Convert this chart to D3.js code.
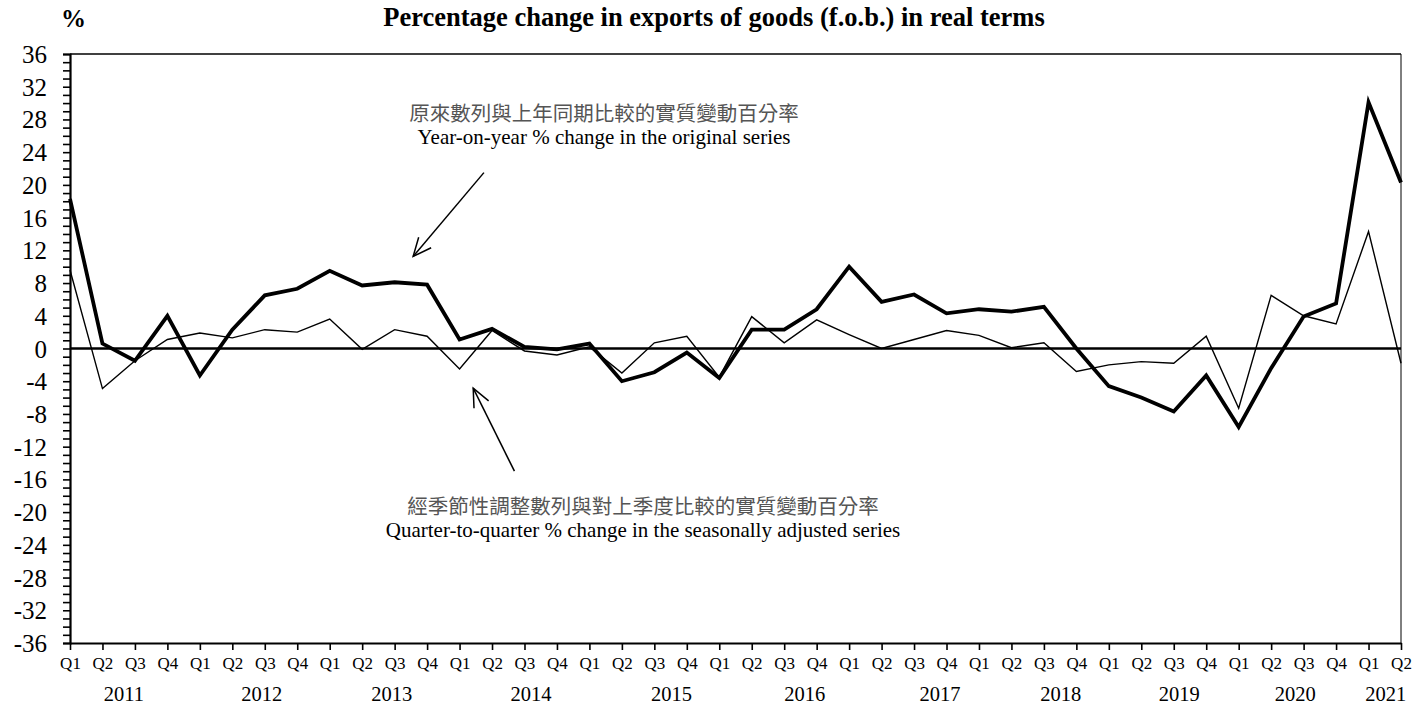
<!DOCTYPE html>
<html>
<head>
<meta charset="utf-8">
<script src="https://cdn.jsdelivr.net/npm/d3@7"></script>
<style>
  body { margin: 0; background: #fff; }
  svg text { font-family: "Liberation Serif", "Times New Roman", serif; fill: #000; }
  .zh { font-family: "Noto Sans CJK TC", sans-serif; }
</style>
</head>
<body>
<div id="vizDiv"></div>
<script>
var width = 1427
var height = 706

// quarters Q1 2011 .. Q2 2021
var years = ["2011","2012","2013","2014","2015","2016","2017","2018","2019","2020","2021"]
var quarters = []
years.forEach(function (y) {
    ["Q1","Q2","Q3","Q4"].forEach(function (q) {
        if (!(y == "2021" && (q == "Q3" || q == "Q4"))) quarters.push(q)
    })
})

// year-on-year % change, original series (thick line)
var yoyValues = [18.3, 0.6, -1.5, 4.0, -3.3, 2.3, 6.5, 7.3, 9.5, 7.7, 8.1, 7.8,
                 1.1, 2.4, 0.2, -0.1, 0.6, -4.0, -2.9, -0.5, -3.6, 2.3, 2.3, 4.8,
                 10.0, 5.7, 6.6, 4.3, 4.8, 4.5, 5.1, 0.0, -4.6, -6.0, -7.7, -3.3,
                 -9.6, -2.4, 3.9, 5.5, 30.1, 20.3]

// quarter-to-quarter % change, seasonally adjusted series (thin line)
var qoqValues = [9.6, -4.9, -1.5, 1.1, 1.9, 1.3, 2.3, 2.0, 3.6, -0.1, 2.3, 1.5,
                 -2.5, 2.2, -0.3, -0.8, 0.2, -3.0, 0.7, 1.5, -3.5, 3.9, 0.7, 3.5,
                 1.7, 0.0, 1.1, 2.2, 1.6, 0.1, 0.7, -2.8, -2.0, -1.6, -1.8, 1.5,
                 -7.3, 6.5, 4.0, 3.0, 14.3, -1.8]

var yTickLabels = d3.range(-36, 37, 4)

// where each year label sits, in quarter units (as laid out in the original)
var yearLabelAt = [1.66, 5.91, 9.91, 14.2, 18.53, 22.63, 26.8, 30.52, 34.17, 37.74, 40.53]

var plotLeft = 70, plotRight = 1401, plotTop = 54, plotBottom = 643

var x = d3.scaleLinear().domain([0, quarters.length - 1]).range([plotLeft, plotRight])
var y = d3.scaleLinear().domain([-36, 36]).range([plotBottom, plotTop])

var svg = d3.select("#vizDiv")
    .append("svg")
    .attr("width", width)
    .attr("height", height)

// title and unit
svg.append("text")
    .attr("x", 714).attr("y", 26)
    .attr("text-anchor", "middle")
    .style("font-size", "26.5px").style("font-weight", "bold")
    .text("Percentage change in exports of goods (f.o.b.) in real terms")

svg.append("text")
    .attr("x", 61).attr("y", 27)
    .style("font-size", "25px").style("font-weight", "bold")
    .text("%")

// frame top / right
svg.append("line")
    .attr("x1", plotLeft).attr("x2", plotRight)
    .attr("y1", plotTop).attr("y2", plotTop)
    .attr("stroke", "black").attr("stroke-width", 1.5)
svg.append("line")
    .attr("x1", plotRight).attr("x2", plotRight)
    .attr("y1", plotTop).attr("y2", plotBottom)
    .attr("stroke", "black").attr("stroke-width", 1)

// y axis
var yAxis = d3.axisLeft(y)
    .tickValues(d3.range(-36, 37, 1))
    .tickSize(7)
    .tickFormat(function (d) { return yTickLabels.indexOf(d) >= 0 ? d : "" })

var gy = svg.append("g")
    .attr("transform", "translate(" + plotLeft + ",0)")
    .call(yAxis)
gy.select(".domain").attr("stroke-width", 2.2)
gy.selectAll(".tick line").attr("stroke-width", 1.6)
gy.selectAll(".tick text")
    .attr("x", -23)
    .attr("dy", "0.34em")
    .style("font-size", "25px")
    .style("font-family", "'Liberation Serif', serif")

// x axis
var xAxis = d3.axisBottom(x)
    .tickValues(d3.range(quarters.length))
    .tickSize(7)
    .tickSizeOuter(0)
    .tickFormat(function (d) { return quarters[d] })

var gx = svg.append("g")
    .attr("transform", "translate(0," + plotBottom + ")")
    .call(xAxis)
gx.select(".domain").attr("stroke-width", 2.2)
gx.selectAll(".tick line").attr("stroke-width", 1.6)
gx.selectAll(".tick text")
    .attr("y", 14)
    .attr("dy", "0.71em")
    .style("font-size", "17px")
    .style("font-family", "'Liberation Serif', serif")

svg.selectAll(".yearLabel")
    .data(years)
    .enter()
    .append("text")
    .attr("class", "yearLabel")
    .attr("x", function (d, i) { return x(yearLabelAt[i]) })
    .attr("y", 701)
    .attr("text-anchor", "middle")
    .style("font-size", "20.5px")
    .text(function (d) { return d })

// zero line
svg.append("line")
    .attr("x1", plotLeft).attr("x2", plotRight)
    .attr("y1", y(0)).attr("y2", y(0))
    .attr("stroke", "black").attr("stroke-width", 2.6)

// series
var line = d3.line()
    .x(function (d, i) { return x(i) })
    .y(function (d) { return y(d) })

svg.append("path")
    .attr("d", line(qoqValues))
    .attr("fill", "none")
    .attr("stroke", "black")
    .attr("stroke-width", 1.4)
    .attr("stroke-linejoin", "miter")

svg.append("path")
    .attr("d", line(yoyValues))
    .attr("fill", "none")
    .attr("stroke", "black")
    .attr("stroke-width", 3.8)
    .attr("stroke-linejoin", "miter")

// annotations
function drawArrow(fromX, fromY, toX, toY) {
    var x1 = x(fromX), y1 = y(fromY), x2 = x(toX), y2 = y(toY)
    var ang = Math.atan2(y2 - y1, x2 - x1)
    var len = 20, spread = 0.42
    svg.append("line")
        .attr("x1", x1).attr("y1", y1).attr("x2", x2).attr("y2", y2)
        .attr("stroke", "black").attr("stroke-width", 1.5)
    var head = [
        [x2 - len * Math.cos(ang - spread), y2 - len * Math.sin(ang - spread)],
        [x2, y2],
        [x2 - len * Math.cos(ang + spread), y2 - len * Math.sin(ang + spread)]
    ]
    svg.append("path")
        .attr("d", d3.line()(head))
        .attr("fill", "none")
        .attr("stroke", "black").attr("stroke-width", 1.5)
}

drawArrow(12.75, 21.5, 10.57, 11.25)
drawArrow(13.69, -15.0, 12.42, -4.85)

function drawNote(cx, zhY, enY, zh, en) {
    svg.append("text")
        .attr("class", "zh")
        .attr("x", cx).attr("y", zhY)
        .attr("text-anchor", "middle")
        .style("font-size", "20.5px")
        .style("fill", "#555")
        .text(zh)
    svg.append("text")
        .attr("x", cx).attr("y", enY)
        .attr("text-anchor", "middle")
        .style("font-size", "21px")
        .text(en)
}

drawNote(604, 121, 144, "原來數列與上年同期比較的實質變動百分率",
    "Year-on-year % change in the original series")
drawNote(643, 514, 537, "經季節性調整數列與對上季度比較的實質變動百分率",
    "Quarter-to-quarter % change in the seasonally adjusted series")
</script>
</body>
</html>
